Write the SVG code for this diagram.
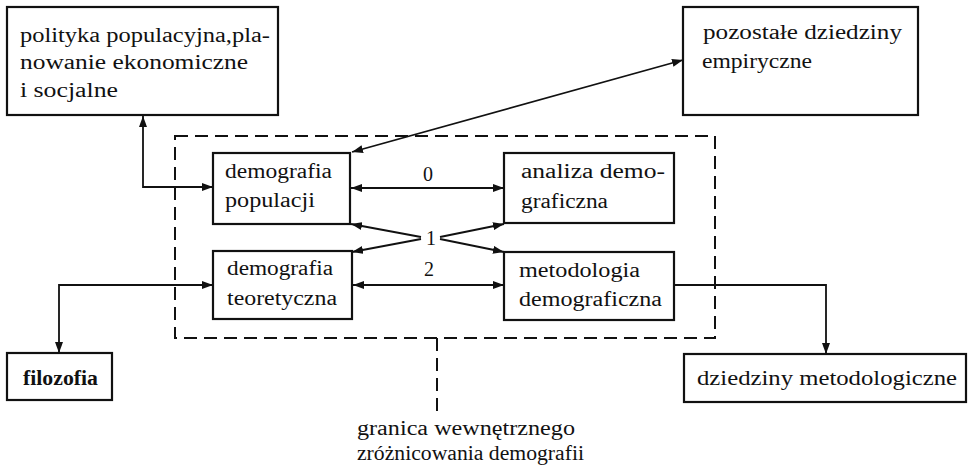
<svg xmlns="http://www.w3.org/2000/svg" width="970" height="473" viewBox="0 0 970 473">
<style>
.box{fill:none;stroke:#111;stroke-width:2.2}
.t{font-family:"Liberation Serif","Times New Roman",serif;font-size:20px;fill:#111}
.b{font-weight:bold}
.ln{fill:none;stroke:#111;stroke-width:1.8}
.dash{fill:none;stroke:#111;stroke-width:2;stroke-dasharray:13 7}
</style>
<defs>
<marker id="ah" viewBox="0 0 11 8" refX="11" refY="4" markerWidth="11" markerHeight="8" markerUnits="userSpaceOnUse" orient="auto-start-reverse">
<path d="M0,0 L11,4 L0,8 Z" fill="#111"/>
</marker>
</defs>
<rect width="970" height="473" fill="#fff"/>
<g id="boundary">
<rect class="dash" x="175" y="136" width="540" height="202"/>
<line class="dash" x1="437" y1="338" x2="437" y2="412"/>
<text class="t" x="357" y="435" textLength="218" lengthAdjust="spacingAndGlyphs">granica  wewnętrznego</text>
<text class="t" x="357" y="460" textLength="227" lengthAdjust="spacingAndGlyphs">zróżnicowania  demografii</text>
</g>
<g id="polityka">
<rect class="box" x="7" y="7" width="271" height="108"/>
<text class="t" x="20" y="42" textLength="250" lengthAdjust="spacingAndGlyphs">polityka populacyjna,pla-</text>
<text class="t" x="20" y="69" textLength="228" lengthAdjust="spacingAndGlyphs">nowanie   ekonomiczne</text>
<text class="t" x="20" y="97" textLength="98" lengthAdjust="spacingAndGlyphs">i  socjalne</text>
</g>
<g id="pozostale">
<rect class="box" x="683" y="7" width="235" height="108"/>
<text class="t" x="703" y="39" textLength="199" lengthAdjust="spacingAndGlyphs">pozostałe  dziedziny</text>
<text class="t" x="702" y="68" textLength="110" lengthAdjust="spacingAndGlyphs">empiryczne</text>
</g>
<g id="demografia-populacji">
<rect class="box" x="213" y="153" width="137" height="71"/>
<text class="t" x="225" y="178" textLength="107" lengthAdjust="spacingAndGlyphs">demografia</text>
<text class="t" x="225" y="207" textLength="90" lengthAdjust="spacingAndGlyphs">populacji</text>
</g>
<g id="demografia-teoretyczna">
<rect class="box" x="213" y="251" width="139" height="68"/>
<text class="t" x="227" y="275" textLength="106" lengthAdjust="spacingAndGlyphs">demografia</text>
<text class="t" x="227" y="305" textLength="110" lengthAdjust="spacingAndGlyphs">teoretyczna</text>
</g>
<g id="analiza">
<rect class="box" x="504" y="153" width="170" height="70"/>
<text class="t" x="521" y="178" textLength="144" lengthAdjust="spacingAndGlyphs">analiza  demo-</text>
<text class="t" x="521" y="208" textLength="87" lengthAdjust="spacingAndGlyphs">graficzna</text>
</g>
<g id="metodologia">
<rect class="box" x="504" y="252" width="170" height="68"/>
<text class="t" x="519" y="277" textLength="121" lengthAdjust="spacingAndGlyphs">metodologia</text>
<text class="t" x="519" y="306" textLength="143" lengthAdjust="spacingAndGlyphs">demograficzna</text>
</g>
<g id="filozofia">
<rect class="box" x="7" y="353" width="105" height="47"/>
<text class="t b" x="23" y="385" textLength="75" lengthAdjust="spacingAndGlyphs">filozofia</text>
</g>
<g id="dziedziny-metodologiczne">
<rect class="box" x="684" y="354" width="282" height="48"/>
<text class="t" x="697" y="385" textLength="260" lengthAdjust="spacingAndGlyphs">dziedziny  metodologiczne</text>
</g>
<g id="connectors">
<polyline class="ln" points="143,116 143,187 213,187" marker-start="url(#ah)" marker-end="url(#ah)"/>
<line class="ln" x1="683" y1="60" x2="352" y2="152" marker-start="url(#ah)" marker-end="url(#ah)"/>
<line class="ln" x1="351" y1="188" x2="504" y2="188" marker-start="url(#ah)" marker-end="url(#ah)"/>
<line class="ln" x1="353" y1="285" x2="504" y2="285" marker-start="url(#ah)" marker-end="url(#ah)"/>
<line class="ln" x1="421" y1="237" x2="351" y2="224" marker-end="url(#ah)"/>
<line class="ln" x1="421" y1="239" x2="352" y2="252" marker-end="url(#ah)"/>
<line class="ln" x1="440" y1="237" x2="504" y2="224" marker-end="url(#ah)"/>
<line class="ln" x1="440" y1="239" x2="504" y2="252" marker-end="url(#ah)"/>
<polyline class="ln" points="213,285 59,285 59,353" marker-start="url(#ah)" marker-end="url(#ah)"/>
<polyline class="ln" points="674,285 826,285 826,354" marker-end="url(#ah)"/>
<text class="t" x="423" y="181">0</text>
<text class="t" x="426" y="245">1</text>
<text class="t" x="424" y="276">2</text>
</g>
</svg>
